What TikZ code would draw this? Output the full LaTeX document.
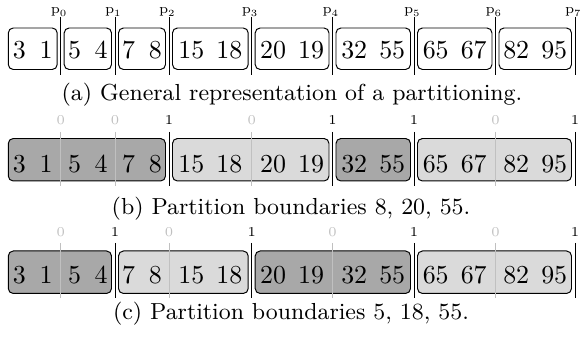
\documentclass[tikz,border=0pt]{standalone}
\usetikzlibrary{fit}
\usepackage{xcolor}
\definecolor{RunDark}{HTML}{A8A8A8}
\definecolor{RunLight}{HTML}{DADADA}
\definecolor{CutGrey}{HTML}{C0C0C0}
\tikzset{
    % Box styles - rounded corners
    chunk/.style={
        rectangle,
        rounded corners=2pt,
        draw=black,
        line width=0.4pt,
        fill=white,
        inner sep=0pt
    },
    darkrun/.style={
        chunk,
        fill=RunDark
    },
    lightrun/.style={
        chunk,
        fill=RunLight
    },
    % Text styles
    num/.style={
        font=\fontsize{10.5}{12}\selectfont,
        anchor=base,
        inner sep=0pt
    },
    cutlabel/.style={
        font=\fontsize{5.5}{6}\selectfont,
        anchor=base,
        inner sep=0pt
    },
    caption/.style={
        font=\fontsize{9.4}{12}\selectfont,
        anchor=base,
        inner sep=0pt
    },
    % Divider lines
    cut/.style={
        line width=0.4pt,
        draw=black
    }
}
\begin{document}
\begin{tikzpicture}[x=0.405pt, y=-0.405pt]
    \useasboundingbox (0,0) rectangle (581,339);

    % (a) one box per chunk
    \node[chunk, fit={(8.3,28) (57.2,69.5)}] (a-box1) {};
    \node[chunk, fit={(64.2,28) (111.5,69.5)}] (a-box2) {};
    \node[chunk, fit={(118.5,28) (165.5,69.5)}] (a-box3) {};
    \node[chunk, fit={(172.5,28) (248.2,69.5)}] (a-box4) {};
    \node[chunk, fit={(255.2,28) (329,69.5)}] (a-box5) {};
    \node[chunk, fit={(336,28) (410.5,69.5)}] (a-box6) {};
    \node[chunk, fit={(417.5,28) (492,69.5)}] (a-box7) {};
    \node[chunk, fit={(499,28) (571.5,69.5)}] (a-box8) {};

    \foreach \x/\i in {60.7/0, 115/1, 169/2, 251.7/3, 332.5/4, 414/5, 495.5/6, 575/7}
        \draw[cut] (\x,17) -- (\x,75) node[cutlabel] (p\i) at (\x-1.5,14) {p\textsubscript{\i}};

    \node[caption] (cap-a) at (292,101) {(a) General representation of a partitioning.};

    % (b) boundaries 8, 20, 55
    \node[darkrun, fit={(8.3,138.5) (165.5,181)}] (b-run1) {};
    \node[lightrun, fit={(172.5,138.5) (329,181)}] (b-run2) {};
    \node[darkrun, fit={(336,138.5) (410.5,181)}] (b-run3) {};
    \node[lightrun, fit={(417.5,138.5) (571.5,181)}] (b-run4) {};

    \foreach \x/\c/\v [count=\i] in {60.7/CutGrey/0, 115/CutGrey/0, 169/black/1, 251.7/CutGrey/0, 332.5/black/1, 414/black/1, 495.5/CutGrey/0, 575/black/1}
        \draw[cut, draw=\c] (\x,132) -- (\x,186) node[cutlabel, text=\c] (b-bit\i) at (\x,125) {\v};

    \node[caption] (cap-b) at (291,215) {(b) Partition boundaries 8, 20, 55.};

    % (c) boundaries 5, 18, 55
    \node[darkrun, fit={(8.3,251) (111.5,293.5)}] (c-run1) {};
    \node[lightrun, fit={(118.5,251) (248.2,293.5)}] (c-run2) {};
    \node[darkrun, fit={(255.2,251) (410.5,293.5)}] (c-run3) {};
    \node[lightrun, fit={(417.5,251) (571.5,293.5)}] (c-run4) {};

    \foreach \x/\c/\v [count=\i] in {60.7/CutGrey/0, 115/black/1, 169/CutGrey/0, 251.7/black/1, 332.5/CutGrey/0, 414/black/1, 495.5/CutGrey/0, 575/black/1}
        \draw[cut, draw=\c] (\x,243) -- (\x,298) node[cutlabel, text=\c] (c-bit\i) at (\x,237) {\v};

    \node[caption] (cap-c) at (291,320) {(c) Partition boundaries 5, 18, 55.};

    % the keys, same places in every row
    \foreach \y/\r in {59/a, 173/b, 284/c}
        \foreach \x/\v [count=\i] in {19.45/3, 46.05/1, 74.55/5, 101.15/4, 128.7/7, 155.3/8, 191.35/15, 229.35/18, 273.1/20, 311.1/19, 354.25/32, 392.25/55, 435.75/65, 473.75/67, 516.25/82, 554.25/95}
            \node[num] (\r-num\i) at (\x,\y) {\v};
\end{tikzpicture}
\end{document}
